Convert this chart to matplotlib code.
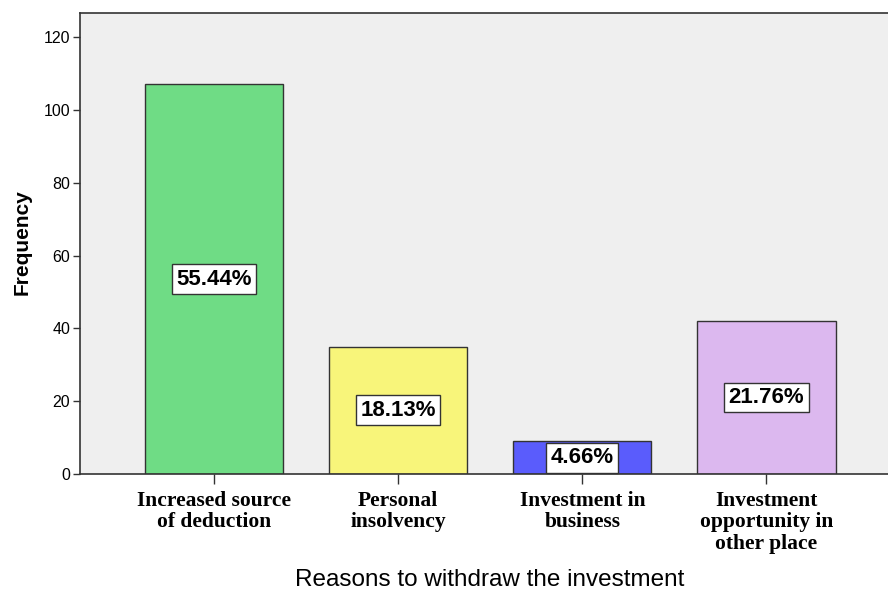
import matplotlib
matplotlib.use("Agg")
import matplotlib.pyplot as plt

categories = ["Increased source\nof deduction", "Personal\ninsolvency",
              "Investment in\nbusiness", "Investment\nopportunity in\nother place"]
frequencies = [107, 35, 9, 42]
percent_labels = ["55.44%", "18.13%", "4.66%", "21.76%"]
colors = ["#6fdc85", "#f8f57a", "#5a5cfc", "#dcb8ef"]
yticks = [0, 20, 40, 60, 80, 100, 120]

fig = plt.figure(figsize=(8.88, 5.92), dpi=100)
ax = fig.add_axes([80/888, (592-474)/592, 808/888, 461/592])
ax.set_facecolor("#efefef")

x = list(range(len(categories)))
ax.bar(x, frequencies, width=0.75, color=colors, edgecolor="#333333", linewidth=1.0, zorder=2)

for xi, f, lab in zip(x, frequencies, percent_labels):
    ax.text(xi, f/2, lab, ha="center", va="center", fontsize=16, fontweight="bold",
            family="Liberation Sans", zorder=3,
            bbox=dict(boxstyle="square,pad=0.2", facecolor="white", edgecolor="#333333", linewidth=1.0))

ax.set_xlim(-0.728, 3.66)
ax.set_ylim(0, 126.6)
ax.set_yticks(yticks)
ax.set_yticklabels([str(v) for v in yticks], family="Liberation Sans", fontsize=11.5)
ax.set_xticks(x)
ax.set_xticklabels(categories, family="Liberation Serif", fontweight="bold", fontsize=15.5,
                   linespacing=1.1)
ax.tick_params(axis="y", direction="out", length=5, width=1, color="#333333", pad=2)
ax.tick_params(axis="x", direction="out", length=7, width=1, color="#333333", pad=5)

for s in ["left", "bottom", "top"]:
    ax.spines[s].set_color("#333333")
    ax.spines[s].set_linewidth(1.2)
ax.spines["right"].set_visible(False)

ax.set_ylabel("Frequency", family="Liberation Sans", fontweight="bold", fontsize=15)
ax.set_xlabel("Reasons to withdraw the investment", family="Liberation Sans", fontsize=17.5)
ax.xaxis.label.set_va("center")
ax.yaxis.label.set_va("center")
ax.xaxis.set_label_coords((490-80)/808, -(580-474)/461)
ax.yaxis.set_label_coords(-(80-22)/808, (474-242)/461)

fig.savefig("out.png", dpi=100)
